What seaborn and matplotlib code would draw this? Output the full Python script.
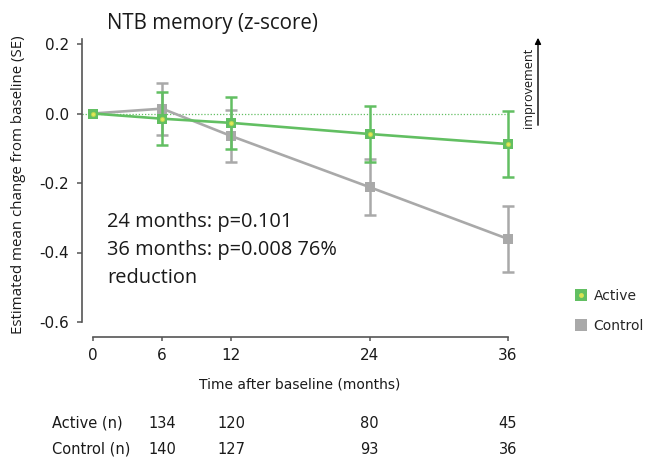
import matplotlib
matplotlib.use("Agg")
import matplotlib.pyplot as plt
from matplotlib.lines import Line2D
from matplotlib.legend_handler import HandlerTuple
import pandas as pd
import seaborn as sns

# data
months = [0, 6, 12, 24, 36]
active_mean = [0.0, -0.015, -0.027, -0.059, -0.088]
active_se = [0.0, 0.077, 0.075, 0.081, 0.096]
control_mean = [0.0, 0.014, -0.065, -0.212, -0.361]
control_se = [0.0, 0.075, 0.075, 0.080, 0.096]

n_months = [6, 12, 24, 36]
active_n = [134, 120, 80, 45]
control_n = [140, 127, 93, 36]

yticks = [-0.6, -0.4, -0.2, 0.0, 0.2]
ytick_labels = ["-0.6", "-0.4", "-0.2", "0.0", "0.2"]

green = "#62bf62"
gray = "#a9a9a9"

sns.set_theme(style="ticks")
plt.rcParams["font.family"] = ["DejaVu Sans"]

W, H = 647, 459
fig = plt.figure(figsize=(W / 100, H / 100), dpi=100)
ax = fig.add_axes([82 / W, 1 - 322 / H, (548 - 82) / W, (322 - 39) / H])

df = pd.DataFrame({
    "month": months * 2,
    "change": control_mean + active_mean,
    "group": ["Control"] * len(months) + ["Active"] * len(months),
})

# control first, so active sits on top
sns.lineplot(data=df[df.group == "Control"], x="month", y="change", color=gray,
             marker="s", markersize=7.5, markeredgewidth=0, linewidth=1.9,
             ax=ax, zorder=2, legend=False)
ax.errorbar(months[1:], control_mean[1:], yerr=control_se[1:], fmt="none",
            ecolor=gray, elinewidth=1.8, capsize=4.5, capthick=1.8, zorder=2)

ax.errorbar(months[1:], active_mean[1:], yerr=active_se[1:], fmt="none",
            ecolor=green, elinewidth=1.8, capsize=4.5, capthick=1.8, zorder=3)
sns.lineplot(data=df[df.group == "Active"], x="month", y="change", color=green,
             marker="s", markersize=7.5, markeredgewidth=0, linewidth=1.9,
             ax=ax, zorder=4, legend=False)
# yellow glow in the middle of the green squares
ax.scatter(months, active_mean, marker="o", s=14, color="#b3d64e", linewidths=0, zorder=5)
ax.scatter(months, active_mean, marker="o", s=5, color="#e4e65a", linewidths=0, zorder=6)

px = (508 - 93) / 36
xlo = -(93 - 82) / px
ax.set_xlim(xlo, 36 + (548 - 508) / px)
ax.set_ylim(-0.6, 0.2 + 5 / 347.5)

# dotted baseline
ax.hlines(0, xlo, 36, colors=green, linestyles=(0, (1, 1.5)), linewidth=0.9, zorder=1)

ax.set_xticks(months)
ax.set_xticklabels([str(m) for m in months])
ax.set_yticks(yticks)
ax.set_yticklabels(ytick_labels)
ax.set_xlabel("")
ax.set_ylabel("")

for s in ["top", "right"]:
    ax.spines[s].set_visible(False)
ax.spines["bottom"].set_position(("outward", 11))
ax.spines["bottom"].set_bounds(0, 36)
for s in ["left", "bottom"]:
    ax.spines[s].set_color("#555555")
    ax.spines[s].set_linewidth(1.2)
ax.tick_params(axis="y", length=3.6, width=1.1, color="#555555", labelsize=11,
               labelcolor="#1a1a1a", pad=5.5)
ax.tick_params(axis="x", length=3, width=1.1, color="#555555", labelsize=11,
               labelcolor="#1a1a1a", pad=5)

# titles and labels
fig.text(107 / W, 1 - 24 / H, "NTB memory (z-score)", fontsize=14.8,
         family=["Open Sans", "DejaVu Sans"], va="center", ha="left", color="#1a1a1a")
fig.text(19 / W, 1 - 185 / H, "Estimated mean change from baseline (SE)", rotation=90,
         fontsize=10.8, family=["Open Sans", "DejaVu Sans"], ha="center", va="center",
         color="#1a1a1a")
fig.text(300 / W, 1 - 384 / H, "Time after baseline (months)", fontsize=10,
         ha="center", va="center", color="#1a1a1a")

ann = ["24 months: p=0.101", "36 months: p=0.008 76%", "reduction"]
for i, line in enumerate(ann):
    fig.text(107 / W, 1 - (226.5 + 28.3 * i) / H, line, fontsize=14.4,
             family=["Open Sans", "DejaVu Sans"], va="baseline", ha="left",
             color="#1a1a1a")

# improvement arrow
ax.annotate("", xy=(538, H - 35), xytext=(538, H - 128), xycoords="figure pixels",
            textcoords="figure pixels",
            arrowprops=dict(arrowstyle="-|>", color="black", lw=1, mutation_scale=9))
fig.text(528 / W, 1 - 128 / H, "improvement", rotation=90, fontsize=9.1,
         family=["Open Sans", "DejaVu Sans"], ha="center", va="bottom", color="#1a1a1a")

# number at risk table
rows = [("Active (n)", active_n, 423), ("Control (n)", control_n, 449)]
for label, vals, yy in rows:
    fig.text(52 / W, 1 - yy / H, label, fontsize=10.5, ha="left", va="center",
             color="#1a1a1a")
    for m, v in zip(n_months, vals):
        x_fig = fig.transFigure.inverted().transform(ax.transData.transform((m, 0)))[0]
        fig.text(x_fig, 1 - yy / H, str(v), fontsize=10.5, ha="center", va="center",
                 color="#1a1a1a")

# legend
h_act = Line2D([], [], marker="s", color=green, linestyle="none", markersize=8,
               markeredgewidth=0)
h_glow = Line2D([], [], marker="o", color="#d9e254", linestyle="none", markersize=3.5,
                markeredgewidth=0)
h_ctl = Line2D([], [], marker="s", color=gray, linestyle="none", markersize=8,
               markeredgewidth=0)
fig.legend(handles=[(h_act, h_glow), h_ctl], labels=["Active", "Control"],
           handler_map={tuple: HandlerTuple(ndivide=1)}, loc="upper left",
           bbox_to_anchor=(574 / W, 1 - 289 / H), frameon=False, borderpad=0,
           borderaxespad=0, handlelength=1.0, handletextpad=0.4, labelspacing=1.15,
           prop={"family": "DejaVu Sans", "size": 10})

fig.savefig("out.png", dpi=100)
